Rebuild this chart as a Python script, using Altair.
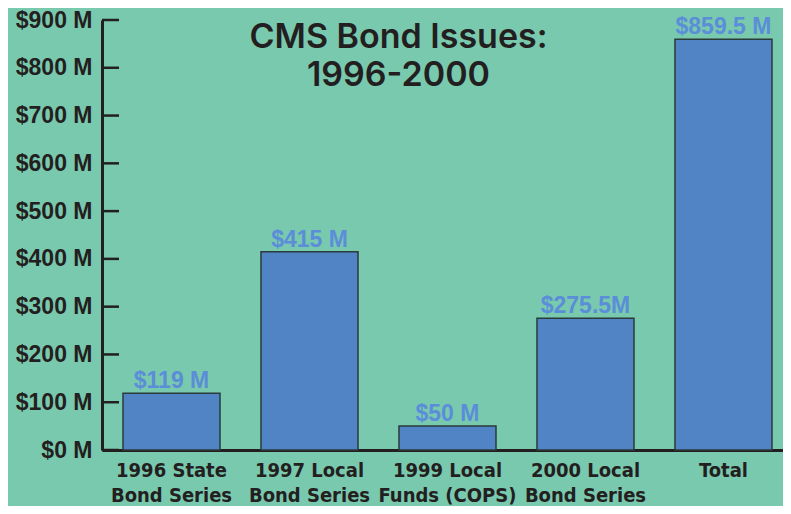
import altair as alt
import pandas as pd

categories = [
    "1996 State\nBond Series",
    "1997 Local\nBond Series",
    "1999 Local\nFunds (COPS)",
    "2000 Local\nBond Series",
    "Total",
]
amounts = [119, 415, 50, 275.5, 859.5]
bar_labels = ["$119 M", "$415 M", "$50 M", "$275.5M", "$859.5 M"]
y_ticks = [0, 100, 200, 300, 400, 500, 600, 700, 800, 900]
title_lines = ["CMS Bond Issues:", "1996-2000"]

df = pd.DataFrame({"cat": categories, "amount": amounts, "label": bar_labels})
ticks_df = pd.DataFrame({"v": y_ticks})
title_df = pd.DataFrame({"t": ["\n".join(title_lines)]})

BG = "#79c9af"
INK = "#231f20"
BAR = "#5084c5"
LBL = "#5b8dd8"
COND = "DejaVu Sans Condensed, Liberation Sans Narrow, DejaVu Sans, sans-serif"

x_enc = alt.X(
    "cat:N",
    sort=categories,
    scale=alt.Scale(paddingInner=0.297, paddingOuter=0.116, align=0.656),
    axis=alt.Axis(
        title=None,
        labelAngle=0,
        labelExpr="split(datum.label, '\\n')",
        labelFont=COND,
        labelFontSize=20,
        labelFontWeight="bold",
        labelColor=INK,
        labelLineHeight=25,
        labelPadding=10,
        ticks=False,
        domainColor=INK,
        domainWidth=3,
    ),
)
y_enc = alt.Y(
    "amount:Q",
    scale=alt.Scale(domain=[0, 900], nice=False),
    axis=alt.Axis(
        title=None,
        values=y_ticks,
        labelExpr="'$' + datum.value + ' M'",
        grid=False,
        ticks=False,
        labelPadding=10,
        labelFont="Liberation Sans",
        labelFontSize=23,
        labelFontWeight="bold",
        labelColor=INK,
        domainColor=INK,
        domainWidth=3,
    ),
)

bars = alt.Chart(df).mark_bar(color=BAR, stroke="#2b3a3a", strokeWidth=1.5).encode(
    x=x_enc, y=y_enc
)
texts = alt.Chart(df).mark_text(
    baseline="alphabetic",
    dy=-5,
    font="Liberation Sans",
    fontSize=23,
    fontWeight="bold",
    color=LBL,
).encode(x=alt.X("cat:N", sort=categories), y="amount:Q", text="label:N")
ticks = alt.Chart(ticks_df).mark_rule(color=INK, strokeWidth=2.5).encode(
    y="v:Q", x=alt.value(0), x2=alt.value(17)
)
title = alt.Chart(title_df).mark_text(
    font="Inter, DejaVu Sans, sans-serif",
    fontSize=34,
    fontWeight=600,
    color=INK,
    align="center",
    baseline="top",
    lineBreak="\n",
    lineHeight=38,
).encode(x=alt.value(296.5), y=alt.value(1), text="t:N")

chart = (
    alt.layer(bars, texts, ticks, title)
    .properties(
        width=681,
        height=430,
        background=BG,
        autosize=alt.AutoSizeParams(type="none"),
        padding={"left": 94, "top": 12, "right": 0, "bottom": 56},
    )
    .configure_view(stroke=None)
)

chart.save("out.html", embed_options={"renderer": "svg", "actions": False})
